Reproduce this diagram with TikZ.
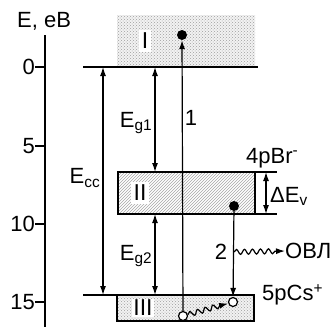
\documentclass[tikz,border=0pt]{standalone}
\usepackage{fontspec}
\setmainfont{Liberation Sans}
\usetikzlibrary{arrows.meta,patterns,decorations.pathmorphing}
\begin{document}
\begin{tikzpicture}[x=1pt,y=-1pt,
  lbl/.style={font=\fontsize{22}{24}\selectfont, inner sep=0pt},
  roman/.style={font=\fontsize{23}{26}\selectfont, fill=white, inner sep=3pt},
  tip/.style={-{Latex[length=9pt,width=6pt]}},
  dbl/.style={{Latex[length=9pt,width=6pt]}-{Latex[length=9pt,width=6pt]}, line width=1.2pt},
  lvl/.style={line width=1.2pt},
  wavy/.style={-{Latex[length=9pt,width=6pt]}, line width=1.2pt, decorate, decoration={snake, amplitude=2.5pt, segment length=8pt, post length=7pt}},
  dotb/.style={circle, fill=black, minimum size=10pt, inner sep=0pt},
  doto/.style={circle, draw, fill=white, line width=1.2pt, minimum size=9pt, inner sep=0pt}]
\useasboundingbox (0,0) rectangle (334,327);
% axis
\coordinate (axT) at (45,35);
\coordinate (axB) at (45,327);
\draw[lvl] (axT) -- (axB);
\foreach \y/\t in {67/0,146/5,224/10,302/15}{
  \draw[lvl] (35,\y) -- (45,\y);
  \node[lbl, anchor=east] at (35,\y) {\t};
}
\node[lbl, anchor=west] (Eax) at (17,21) {E, еВ};
% bands
\fill[gray!10] (117,15) rectangle (255,67);
\fill[pattern=crosshatch dots, pattern color=gray!75] (117,15) rectangle (255,67);
\node[roman] (bI) at (145,41) {I};
\fill[white] (118,172) rectangle (255,214);
\fill[pattern=north east lines, pattern color=gray!70] (118,172) rectangle (255,214);
\draw[lvl] (118,172) rectangle (255,214);
\node[roman] (bII) at (140,193) {II};
\fill[gray!10] (117,295) rectangle (254,321);
\fill[pattern=crosshatch dots, pattern color=gray!75] (117,295) rectangle (254,321);
\draw[lvl] (117,295) rectangle (254,321);
\node[roman, inner sep=1pt] (bIII) at (143,308) {III};
% level lines
\coordinate (L0a) at (83,67); \coordinate (L0b) at (258,67);
\draw[lvl] (L0a) -- (L0b);
\coordinate (L15a) at (83,295); \coordinate (L15b) at (117,295);
\draw[lvl] (L15a) -- (L15b);
\draw[lvl] (255,172) -- (277,172);
\draw[lvl] (255,214) -- (277,214);
% gap arrows
\coordinate (ecT) at (103,67); \coordinate (ecB) at (103,295);
\draw[dbl] (ecT) -- (ecB);
\node[lbl] (Ecc) at (85,178) {E\textsubscript{cc}};
\coordinate (g1T) at (155,67); \coordinate (g1B) at (155,172);
\draw[dbl] (g1T) -- (g1B);
\node[lbl] (Eg1) at (136,123) {E\textsubscript{g1}};
\coordinate (g2T) at (155,214); \coordinate (g2B) at (155,295);
\draw[dbl] (g2T) -- (g2B);
\node[lbl] (Eg2) at (136,256) {E\textsubscript{g2}};
\coordinate (dvT) at (266,172); \coordinate (dvB) at (266,214);
\draw[dbl] (dvT) -- (dvB);
\node[lbl, anchor=west] (dEv) at (270,196) {ΔE\textsubscript{v}};
% particles
\node[dotb] (top) at (182,35) {};
\node[doto] (lo1) at (183,316) {};
\node[dotb] (mid) at (234,206) {};
\node[doto] (lo2) at (233,302) {};
\draw[tip, line width=1.2pt] (lo1) -- (top);
\node[lbl] (n1) at (191,118) {1};
\draw[tip, line width=1.2pt] (mid) -- (lo2);
\node[lbl] (n2) at (221,252) {2};
\coordinate (wa) at (234,252);
\node[lbl, anchor=west] (ovl) at (285,251) {ОВЛ};
\draw[wavy] (wa) -- (ovl.west);
\draw[wavy] (lo1) -- (lo2);
\node[lbl, anchor=west] (br) at (246,158) {4pBr\textsuperscript{-}};
\node[lbl, anchor=west] (cs) at (262,295) {5pCs\textsuperscript{+}};
\end{tikzpicture}
\end{document}
